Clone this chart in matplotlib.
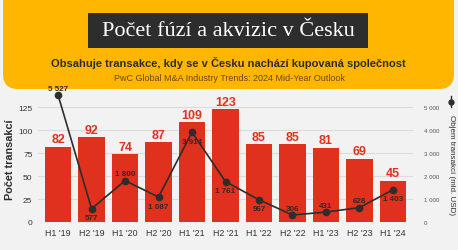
import numpy as np
import matplotlib
matplotlib.use('Agg')
import matplotlib.pyplot as plt
from matplotlib.patches import FancyBboxPatch, Rectangle

# data
periods = ["H1 '19", "H2 '19", "H1 '20", "H2 '20", "H1 '21", "H2 '21",
           "H1 '22", "H2 '22", "H1 '23", "H2 '23", "H1 '24"]
deals = [82, 92, 74, 87, 109, 123, 85, 85, 81, 69, 45]
volume = [5527, 577, 1800, 1087, 3914, 1761, 967, 306, 431, 628, 1403]
vol_labels = ['5 527', '577', '1 800', '1 087', '3 914', '1 761', '967', '306', '431', '628', '1 403']
vol_pos = ['above', 'below', 'above', 'below', 'below', 'below', 'below', 'above', 'above', 'above', 'below']

RED = '#e0301e'
YELLOW = '#ffb600'
DARK = '#2d2d2d'
BG = '#f2f2f2'

plt.rcParams['font.family'] = ['Liberation Sans', 'DejaVu Sans']

fig = plt.figure(figsize=(4.58, 2.51), dpi=100)
fig.patch.set_facecolor(BG)

# header drawn in pixel space
bg = fig.add_axes([0, 0, 1, 1], zorder=0)
bg.set_xlim(0, 458)
bg.set_ylim(251, 0)
bg.axis('off')
bg.add_patch(FancyBboxPatch((3, -30), 451, 120, boxstyle='round,pad=0,rounding_size=15',
                            fc=YELLOW, ec='none'))
bg.add_patch(Rectangle((88, 14), 280, 35, fc=DARK, ec='none'))
bg.text(228, 32, 'Počet fúzí a akvizic v Česku', color='white', fontsize=16,
        family='Liberation Serif', ha='center', va='center')
bg.text(228.5, 63, 'Obsahuje transakce, kdy se v Česku nachází kupovaná společnost',
        color=DARK, fontsize=8, fontweight='bold', ha='center', va='center')
bg.text(229, 79, 'PwC Global M&A Industry Trends: 2024 Mid-Year Outlook',
        color='#6b4a00', fontsize=6.5, ha='center', va='center')
bg.text(10, 160, 'Počet transakcí', rotation=90, fontsize=7.8, fontweight='bold',
        color=DARK, ha='center', va='center')
bg.text(451, 165, 'Objem transakcí (mld. USD)', rotation=270, fontsize=5.8,
        color=DARK, ha='center', va='center')
bg.plot([451, 451], [97, 108], color=DARK, lw=1)
bg.plot([451], [102.5], 'o', color=DARK, ms=3.5)

ax = fig.add_axes([38/458, 1-223/251, (413-38)/458, (223-99)/251], zorder=1)
ax.patch.set_alpha(0)
x = np.arange(len(periods))
ax.bar(x, deals, width=0.79, color=RED, zorder=2)
for xi, d in zip(x, deals):
    ax.text(xi, d + 1.5, str(d), color=RED, fontsize=9, fontweight='bold',
            ha='center', va='bottom')
ax.set_ylim(0, 135)
ax.set_xlim(-0.6, len(periods) - 0.4)
ax.set_yticks([0, 25, 50, 75, 100, 125])
ax.yaxis.grid(True, color='#dcdcdc', lw=0.8, zorder=0)
ax.set_axisbelow(True)
ax.set_xticks(x)
ax.set_xticklabels(periods)
ax.tick_params(axis='x', length=0, labelsize=6.4, colors='#333333', pad=4)
ax.tick_params(axis='y', length=0, labelsize=6, colors='#333333', pad=4)
for s in ax.spines.values():
    s.set_visible(False)

ax2 = ax.twinx()
ax2.set_ylim(0, 135 * 40)
ax2.plot(x, volume, color=DARK, lw=1.2, marker='o', ms=4.5, zorder=3, clip_on=False)
for xi, v, lab, p in zip(x, volume, vol_labels, vol_pos):
    if p == 'above':
        ax2.annotate(lab, (xi, v), xytext=(0, 2.5), textcoords='offset points',
                     ha='center', va='bottom', fontsize=5.8, fontweight='bold',
                     color='#3a2626', annotation_clip=False)
    else:
        ax2.annotate(lab, (xi, v), xytext=(0, -4), textcoords='offset points',
                     ha='center', va='top', fontsize=5.8, fontweight='bold',
                     color='#3a2626', annotation_clip=False)
ax2.set_yticks([0, 1000, 2000, 3000, 4000, 5000])
ax2.set_yticklabels(['0', '1 000', '2 000', '3 000', '4 000', '5 000'])
ax2.tick_params(axis='y', length=0, labelsize=4.4, colors='#555555', pad=8)
for s in ax2.spines.values():
    s.set_visible(False)

fig.savefig('out.png', dpi=100, facecolor=fig.get_facecolor())
